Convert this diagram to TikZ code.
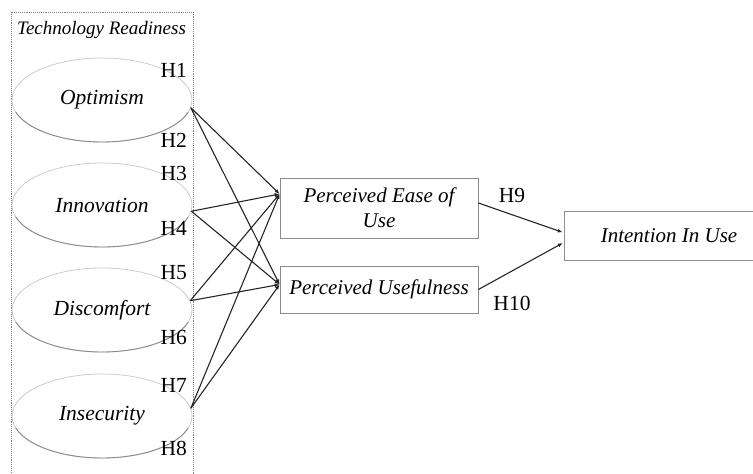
\documentclass[tikz,border=0pt]{standalone}
\usepackage{fontspec}
\setmainfont{Liberation Serif}
\usetikzlibrary{shapes.geometric,arrows.meta}
\begin{document}
\begin{tikzpicture}[x=1pt,y=-1pt,
  latent/.style={ellipse, draw=black!20, line width=0.8pt, minimum width=180pt,
    minimum height=84pt, inner sep=0pt, font=\fontsize{21.5}{24}\selectfont\itshape},
  construct/.style={rectangle, draw=black!45, line width=0.8pt, minimum width=198pt,
    inner sep=0pt, align=center, font=\fontsize{21}{25}\selectfont\itshape},
  hyp/.style={inner sep=0pt, font=\fontsize{21.5}{24}\selectfont},
  hypr/.style={hyp, anchor=east},
  rim/.style={draw=black!45, line width=0.9pt},
  link/.style={line width=1.1pt, black!85, -{Latex[length=5pt,width=4pt]}},
]
\useasboundingbox (0,0) rectangle (753,474);
\fill[white] (0,0) rectangle (753,474);

% Technology readiness group frame
\draw[black!50, densely dotted, line width=0.9pt] (11,12) rectangle (193,478);
\node[anchor=west, inner sep=0pt, font=\fontsize{19}{21}\selectfont\itshape]
  (trtitle) at (17,30) {Technology Readiness};

% Latent dimensions
\node[latent] (opt) at (102,100) {Optimism};
\node[latent] (inn) at (102,205) {Innovation};
\node[latent] (dis) at (102,310) {Discomfort};
\node[latent] (ins) at (102,416) {Insecurity};

% darker lower rims of the ellipses
\foreach \cy in {100,205,310,416}{
  \begin{scope}
    \clip (0,\cy+12) rectangle (200,\cy+50);
    \draw[rim] (102,\cy) ellipse [x radius=90pt, y radius=42pt];
  \end{scope}
}

% Hypothesis labels in the frame
\node[hypr] (h1) at (187,70) {H1};
\node[hypr] (h2) at (187,140) {H2};
\node[hypr] (h3) at (187,173) {H3};
\node[hypr] (h4) at (187,228) {H4};
\node[hypr] (h5) at (187,273) {H5};
\node[hypr] (h6) at (187,337) {H6};
\node[hypr] (h7) at (187,385) {H7};
\node[hypr] (h8) at (187,448) {H8};

% Mediating constructs
\node[construct, minimum height=60pt] (peou) at (379,208) {Perceived Ease of\\Use};
\node[construct, minimum height=47pt] (pu) at (379,289.5) {Perceived Usefulness};

% Outcome construct, its frame running past the right edge
\node[construct, draw=none, minimum width=208pt, minimum height=48pt] (iu) at (669,236) {Intention In Use};
\draw[black!45, line width=0.8pt] (iu.north east) ++(20,0) -| (iu.south west) -- ++(228,0);

% Paths from each dimension to both perceptions
\coordinate (peouin) at ([yshift=14pt]peou.west);
\coordinate (puin) at ([yshift=5pt]pu.west);
\foreach \s/\a in {opt/-5, inn/-4, dis/6, ins/5}{
  \draw[link] (\s.\a) -- (peouin);
  \draw[link] (\s.\a) -- (puin);
}

% Paths to intention
\draw[link, shorten >=2pt] ([yshift=5pt]peou.east) -- ([yshift=3pt]iu.west);
\draw[link, shorten >=2pt] (pu.east) -- ([yshift=-6pt]iu.west);
\node[hyp] (h9) at (512,195) {H9};
\node[hyp] (h10) at (512,303) {H10};
\end{tikzpicture}
\end{document}
